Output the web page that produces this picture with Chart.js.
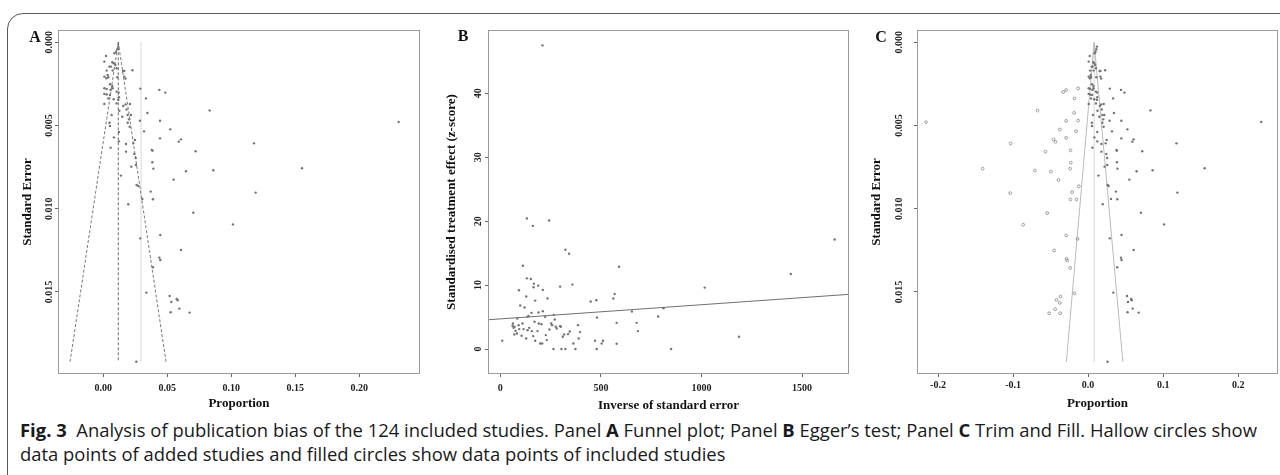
<!DOCTYPE html>
<html>
<head>
<meta charset="utf-8">
<script src="https://cdn.jsdelivr.net/npm/chart.js@4.4.0/dist/chart.umd.min.js"></script>
<style>
  body { margin: 0; width: 1280px; height: 475px; overflow: hidden; background: #fff; position: relative; }
  #frame { position: absolute; left: 7px; top: 13px; width: 1320px; height: 520px; border: 1.5px solid #555; border-top-left-radius: 16px; }
  canvas { position: absolute; }
  .letter { position: absolute; font: bold 16px "Liberation Serif", serif; color: #111; transform: translate(-50%, -50%); }
  .cap { position: absolute; left: 20px; font-family: "Open Sans", sans-serif; font-size: 18px; line-height: 24px; color: #1a1a1a; white-space: nowrap; transform-origin: 0 0; }
  .cap b { font-weight: 700; }
</style>
</head>
<body>
<div id="frame"></div>
<canvas id="funnel" width="412" height="400" style="left:12px;top:16px"></canvas>
<canvas id="egger" width="424" height="400" style="left:430px;top:16px"></canvas>
<canvas id="trim" width="422" height="400" style="left:860px;top:16px"></canvas>
<div class="letter" style="left:35px;top:37px">A</div>
<div class="letter" style="left:463px;top:36px">B</div>
<div class="letter" style="left:881px;top:37px">C</div>
<div class="cap" id="cap1" style="top:418px"><b>Fig. 3</b>&nbsp; Analysis of publication bias of the 124 included studies. Panel <b>A</b> Funnel plot; Panel <b>B</b> Egger’s test; Panel <b>C</b> Trim and Fill. Hallow circles show</div>
<div class="cap" id="cap2" style="top:442px">data points of added studies and filled circles show data points of included studies</div>

<script>
// === Panel A: funnel plot (proportion vs standard error) ===
const funnelProp = [
  0.0021, 0.0008, 0.0086, 0.0099, 0.0109, 0.0117, 0.0070, 0.0081, 0.0094, 0.0047,
  0.0060, 0.0026, 0.0073, 0.0104, 0.0154, 0.0164, 0.0227, 0.0008, 0.0023, 0.0034,
  0.0039, 0.0109, 0.0164, 0.0174, 0.0052, 0.0070, 0.0008, 0.0026, 0.0057, 0.0073,
  0.0008, 0.0026, 0.0052, 0.0104, 0.0120, 0.0122, 0.0117, 0.0081, 0.0008, 0.0039,
  0.0104, 0.0156, 0.0174, 0.0208, 0.0182, 0.0125, 0.0065, 0.0148, 0.0190, 0.0216,
  0.0289, 0.0049, 0.0052, 0.0190, 0.0201, 0.0206, 0.0286, 0.0318, 0.0122, 0.0083,
  0.0177, 0.0234, 0.0247, 0.0122, 0.0057, 0.0177, 0.0242, 0.0253, 0.0219, 0.0255,
  0.0138, 0.0260, 0.0273, 0.0370, 0.0305, 0.0438, 0.0484, 0.0333, 0.0344, 0.0831,
  0.0443, 0.0523, 0.0443, 0.0589, 0.0607, 0.0378, 0.0385, 0.0721, 0.0383, 0.0391,
  0.0646, 0.0859, 0.0549, 0.1177, 0.1552, 0.1190, 0.2307, 0.0195, 0.0388, 0.0703,
  0.1013, 0.0289, 0.0445, 0.0607, 0.0438, 0.0445, 0.0388, 0.0336, 0.0518, 0.0573,
  0.0531, 0.0594, 0.0526, 0.0674, 0.0258, 0.0581
];
const funnelSE = [
  0.00082, 0.00116, 0.00066, 0.00056, 0.00042, 0.00026, 0.00120, 0.00126, 0.00136, 0.00146,
  0.00146, 0.00170, 0.00170, 0.00156, 0.00172, 0.00172, 0.00168, 0.00206, 0.00216, 0.00196,
  0.00210, 0.00210, 0.00206, 0.00218, 0.00252, 0.00262, 0.00276, 0.00280, 0.00286, 0.00276,
  0.00310, 0.00314, 0.00316, 0.00296, 0.00302, 0.00330, 0.00346, 0.00342, 0.00371, 0.00337,
  0.00367, 0.00383, 0.00373, 0.00371, 0.00403, 0.00411, 0.00437, 0.00447, 0.00437, 0.00437,
  0.00278, 0.00483, 0.00503, 0.00483, 0.00463, 0.00507, 0.00471, 0.00535, 0.00539, 0.00571,
  0.00611, 0.00607, 0.00587, 0.00595, 0.00633, 0.00657, 0.00671, 0.00695, 0.00747, 0.00737,
  0.00801, 0.00857, 0.00863, 0.00897, 0.00941, 0.00286, 0.00302, 0.00337, 0.00425, 0.00409,
  0.00471, 0.00523, 0.00577, 0.00597, 0.00583, 0.00647, 0.00651, 0.00655, 0.00721, 0.00759,
  0.00775, 0.00769, 0.00825, 0.00607, 0.00757, 0.00903, 0.00479, 0.00973, 0.00943, 0.01024,
  0.01094, 0.01178, 0.01158, 0.01248, 0.01294, 0.01308, 0.01352, 0.01504, 0.01524, 0.01542,
  0.01560, 0.01600, 0.01622, 0.01624, 0.01919, 0.01550
];
// funnel outline and the two reference lines
const funnelLeft = [{x: 0.0117, y: 0}, {x: -0.026, y: 0.0192}];
const funnelRight = [{x: 0.0117, y: 0}, {x: 0.049, y: 0.0192}];
const funnelMid = [{x: 0.0117, y: 0}, {x: 0.0117, y: 0.0192}];
const funnelPooled = [{x: 0.0295, y: 0}, {x: 0.0295, y: 0.0192}];
const funnelXTicks = [0, 0.05, 0.10, 0.15, 0.20];
const funnelYTicks = [0, 0.005, 0.010, 0.015];

// === Panel B: Egger's test ===
const eggerPrecision = [
  9.9, 62.8, 61.1, 71.0, 66.1, 76.0, 69.4, 82.6, 84.3, 92.5,
  99.1, 90.9, 94.2, 105.7, 112.3, 110.7, 115.6, 120.6, 128.9, 132.2,
  132.2, 128.9, 135.5, 140.4, 135.5, 143.7, 152.0, 155.3, 161.9, 165.2,
  166.9, 173.5, 170.2, 156.9, 163.5, 173.5, 188.3, 185.0, 190.0, 191.6,
  198.2, 208.2, 204.8, 211.5, 211.5, 223.0, 226.3, 231.3, 234.6, 242.8,
  244.5, 252.8, 257.7, 264.3, 266.0, 270.9, 275.9, 280.8, 297.4, 297.4,
  300.7, 304.0, 310.6, 317.2, 323.8, 323.8, 337.0, 342.0, 345.3, 358.5,
  363.4, 373.4, 386.6, 389.9, 396.5, 449.3, 470.8, 477.4, 479.1, 480.7,
  503.9, 510.5, 561.7, 568.3, 578.2, 578.2, 589.8, 654.2, 677.3, 683.9,
  784.7, 811.1, 849.1, 1016.0, 1186.1, 1443.8, 1661.9, 209.8
];
const eggerZ = [
  1.30, 4.00, 3.64, 3.48, 3.32, 2.86, 2.29, 2.44, 4.78, 9.19,
  6.81, 3.74, 3.12, 2.08, 13.04, 4.00, 3.12, 6.49, 1.66, 20.42,
  11.06, 8.21, 5.04, 5.19, 2.96, 3.32, 10.96, 5.66, 19.27, 9.66,
  10.23, 7.58, 4.26, 2.81, 2.03, 1.30, 9.92, 2.81, 5.71, 4.00,
  0.88, 0.88, 3.90, 9.25, 5.92, 5.04, 2.18, 1.40, 7.90, 20.10,
  3.06, 4.00, 3.74, 0.00, 5.35, 4.62, 3.48, 3.22, 9.77, 3.58,
  3.48, 0.00, 1.92, 2.29, 0.00, 15.53, 2.34, 14.91, 2.75, 10.08,
  0.88, 0.00, 3.74, 1.66, 2.65, 7.43, 1.30, 7.64, 0.00, 4.94,
  0.88, 1.30, 7.90, 8.62, 4.10, 0.83, 12.88, 5.87, 4.10, 2.81,
  5.09, 6.39, 0.00, 9.61, 1.92, 11.74, 17.14, 47.5
];
const eggerLine = [{x: -61, y: 4.58}, {x: 1733, y: 8.56}];
const eggerXTicks = [0, 500, 1000, 1500];
const eggerYTicks = [0, 10, 20, 30, 40];

// === Panel C: trim and fill (added studies) ===
const addedProp = [
  -0.2160, -0.1033, -0.1406, -0.0710, -0.0497, -0.0568, -0.0461, -0.0435, -0.0377, -0.0293,
  -0.0293, -0.0186, -0.0133, -0.0160, -0.0674, -0.0333, -0.0293, -0.0182, -0.0133, -0.0235,
  -0.0231, -0.0239, -0.0395, -0.1038, -0.0213, -0.0124, -0.0235, -0.0155, -0.0545, -0.0865,
  -0.0293, -0.0142, -0.0452, -0.0288, -0.0279, -0.0239, -0.0182, -0.0368, -0.0421, -0.0377,
  -0.0439, -0.0519, -0.0373
];
const addedSE = [
  0.00480, 0.00608, 0.00759, 0.00771, 0.00777, 0.00657, 0.00584, 0.00598, 0.00524, 0.00472,
  0.00574, 0.00424, 0.00470, 0.00534, 0.00410, 0.00299, 0.00287, 0.00337, 0.00277, 0.00649,
  0.00723, 0.00759, 0.00827, 0.00906, 0.00900, 0.00865, 0.00944, 0.00944, 0.01026, 0.01096,
  0.01161, 0.01181, 0.01251, 0.01301, 0.01311, 0.01355, 0.01508, 0.01528, 0.01548, 0.01566,
  0.01604, 0.01628, 0.01628
];
const trimLeft = [{x: 0.008, y: 0}, {x: -0.029, y: 0.0192}];
const trimRight = [{x: 0.008, y: 0}, {x: 0.0463, y: 0.0192}];
const trimMid = [{x: 0.008, y: 0}, {x: 0.008, y: 0.0192}];
const trimXTicks = [-0.2, -0.1, 0, 0.1, 0.2];

const SERIF = '"Liberation Serif", "Times New Roman", serif';
const toPoints = (xs, ys) => xs.map((x, i) => ({x, y: ys[i]}));

// === 外框 + 旋轉的 y 軸刻度文字 ===
const framePlugin = {
  id: 'frame',
  afterDraw(chart, args, opts) {
    const {ctx, chartArea: a} = chart;
    const y = chart.scales.y;
    ctx.save();
    ctx.strokeStyle = '#9a9a9a';
    ctx.lineWidth = 1;
    ctx.strokeRect(a.left + 0.5, a.top + 0.5, a.right - a.left - 1, a.bottom - a.top - 1);
    ctx.fillStyle = '#222';
    ctx.font = 'bold 10px ' + SERIF;
    ctx.textAlign = 'center';
    ctx.textBaseline = 'middle';
    y.ticks.forEach(t => {
      ctx.save();
      ctx.translate(a.left - opts.gap, y.getPixelForValue(t.value));
      ctx.rotate(-Math.PI / 2);
      ctx.fillText(t.value.toFixed(opts.digits), 0, 0);
      ctx.restore();
    });
    ctx.restore();
  }
};

function lineSet(data, color, dash, width) {
  return { data, showLine: true, pointRadius: 0, borderColor: color, borderWidth: width || 1, borderDash: dash || [], fill: false };
}

function dots(data, hollow) {
  return {
    data, pointRadius: hollow ? 1.4 : 1.2, pointHoverRadius: 1.2,
    backgroundColor: hollow ? 'rgba(255,255,255,0)' : '#737373',
    borderColor: hollow ? '#7a7a7a' : '#737373',
    borderWidth: hollow ? 0.7 : 0
  };
}

function makeChart(id, cfg) {
  new Chart(document.getElementById(id), {
    type: 'scatter',
    data: { datasets: cfg.datasets },
    plugins: [framePlugin],
    options: {
      responsive: false,
      animation: false,
      devicePixelRatio: 1,
      layout: { padding: { top: 14, right: cfg.padRight, left: 0, bottom: 0 } },
      plugins: {
        legend: { display: false },
        tooltip: { enabled: false },
        frame: { gap: cfg.gap, digits: cfg.yDigits }
      },
      scales: {
        x: {
          type: 'linear', min: cfg.xMin, max: cfg.xMax,
          afterBuildTicks: s => { s.ticks = cfg.xTicks.map(v => ({ value: v })); },
          afterFit: s => { s.height = 42; },
          ticks: {
            font: { family: SERIF, size: 10, weight: 'bold' }, color: '#222',
            padding: cfg.xPad, maxRotation: 0, autoSkip: false,
            callback: v => cfg.xFmt(v)
          },
          grid: { drawOnChartArea: false, tickLength: 3, color: '#666' },
          border: { display: false },
          title: { display: true, text: cfg.xTitle, color: '#111', font: { family: SERIF, size: 13, weight: 'bold' }, padding: { top: 0, bottom: cfg.xTitlePad } }
        },
        y: {
          type: 'linear', min: cfg.yMin, max: cfg.yMax, reverse: cfg.reverse,
          afterBuildTicks: s => { s.ticks = cfg.yTicks.map(v => ({ value: v })); },
          afterFit: s => { s.width = cfg.yWidth; },
          ticks: { display: false },
          grid: { drawOnChartArea: false, tickLength: 3, color: '#666' },
          border: { display: false },
          title: { display: true, text: cfg.yTitle, color: '#111', font: { family: SERIF, size: 13, weight: 'bold' }, padding: { top: cfg.yTitlePad, bottom: 0 } }
        }
      }
    }
  });
}

makeChart('funnel', {
  datasets: [
    dots(toPoints(funnelProp, funnelSE)),
    lineSet(funnelLeft, '#555', [3, 2], 0.8),
    lineSet(funnelRight, '#555', [3, 2], 0.8),
    lineSet(funnelMid, '#444', [3, 2], 0.8),
    lineSet(funnelPooled, '#b0b0b0', [1, 1], 1)
  ],
  xMin: -0.0354, xMax: 0.2474, yMin: -0.00074, yMax: 0.01993, reverse: true,
  xTicks: funnelXTicks, yTicks: funnelYTicks, xFmt: v => v.toFixed(2), yDigits: 3,
  xTitle: 'Proportion', yTitle: 'Standard Error',
  yWidth: 46, padRight: 4, gap: 9, xPad: 5, xTitlePad: 5, yTitlePad: 8
});

makeChart('egger', {
  datasets: [
    dots(toPoints(eggerPrecision, eggerZ)),
    lineSet(eggerLine, '#707070', [], 1)
  ],
  xMin: -61, xMax: 1733, yMin: -3.9, yMax: 49.9, reverse: false,
  xTicks: eggerXTicks, yTicks: eggerYTicks, xFmt: v => String(v), yDigits: 0,
  xTitle: 'Inverse of standard error', yTitle: 'Standardised treatment effect (z-score)',
  yWidth: 58, padRight: 5, gap: 10, xPad: 5, xTitlePad: 3, yTitlePad: 14
});

makeChart('trim', {
  datasets: [
    dots(toPoints(funnelProp, funnelSE)),
    dots(toPoints(addedProp, addedSE), true),
    lineSet(trimLeft, '#aaa', [], 0.8),
    lineSet(trimRight, '#aaa', [], 0.8),
    lineSet(trimMid, '#999', [1, 1], 0.8)
  ],
  xMin: -0.228, xMax: 0.253, yMin: -0.00074, yMax: 0.01993, reverse: true,
  xTicks: trimXTicks, yTicks: funnelYTicks, xFmt: v => v.toFixed(1), yDigits: 3,
  xTitle: 'Proportion', yTitle: 'Standard Error',
  yWidth: 57, padRight: 4, gap: 18, xPad: 2, xTitlePad: 5, yTitlePad: 9
});

// === 圖說寬度對齊原圖 ===
const cap1 = document.getElementById('cap1');
const cap2 = document.getElementById('cap2');
const k = 1237 / cap1.offsetWidth;
cap1.style.transform = cap2.style.transform = `scaleX(${k})`;
</script>
</body>
</html>
